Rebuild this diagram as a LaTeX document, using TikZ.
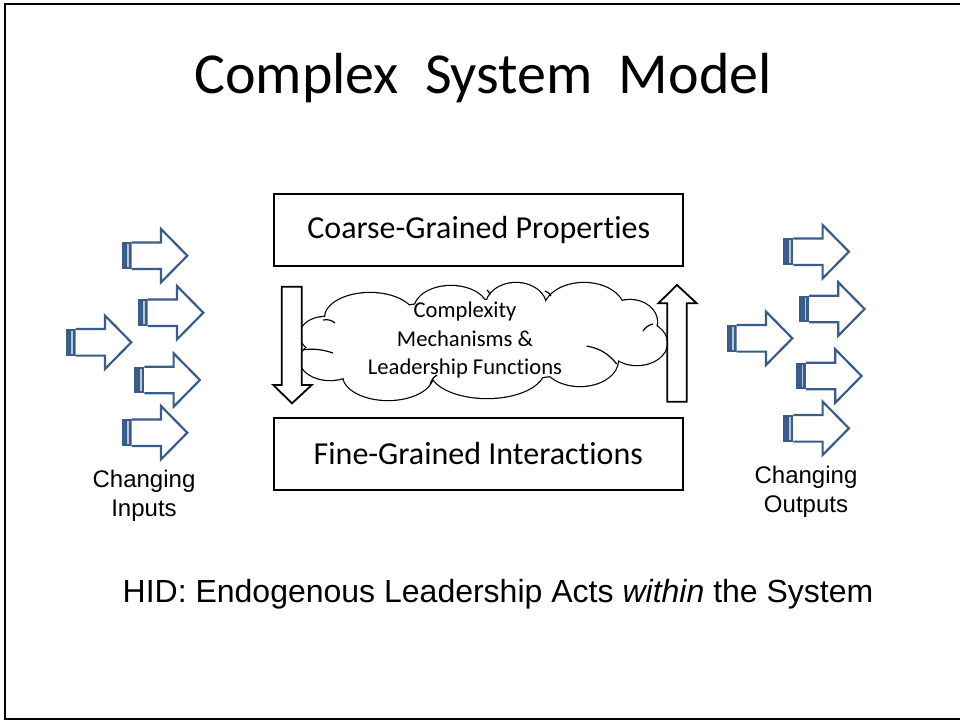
\documentclass[tikz,border=0pt]{standalone}
\usepackage{fontspec}
\setmainfont{Carlito}[Ligatures=NoCommon]
\newfontfamily\arialfont{Liberation Sans}
\definecolor{arrowblue}{RGB}{56,93,138}

\begin{document}
\begin{tikzpicture}[x=1pt, y=-1pt, line join=miter]

    \tikzset{%
    grain box/.style={
        draw,
        line width=2pt,
        minimum width=409,
        minimum height=72,
        font=\fontsize{32}{36}\selectfont
        },
    side label/.style={
        align=center,
        font=\arialfont\fontsize{24}{29}\selectfont
        },
    striped arrow/.pic={
        \fill [arrowblue] (0,-13.3) rectangle (10,13.3);
        \fill [white!65!arrowblue] (5.6,-11.3) rectangle (7.3,11.3);
        \draw [arrowblue, line width=2.2pt, fill=white]
        (10,-13.3) -- (39.3,-13.3) -- (39.3,-26.7) -- (65.6,0)
        -- (39.3,26.7) -- (39.3,13.3) -- (10,13.3);
        },
    block arrow/.style={
        draw,
        fill=white,
        line width=1.8pt
        },
    puff line/.style={
        line width=1.2pt
        },
    }

    \useasboundingbox (0,0) rectangle (960,721);

    % Slide frame
    \draw [line width=2pt] (970,3.5) -- (4.5,3.5) -- (4.5,719) -- (970,719);

    % Title
    \node (title) at (483,78) {\fontsize{58}{62}\selectfont Complex\hspace{0.45em}System\hspace{0.45em}Model};

    % Coarse and fine boxes
    \node [grain box] (coarse) at (478.7,229.7) {Coarse-Grained Properties};
    \node [grain box] (fine) at (478.3,453.5) {Fine-Grained Interactions};

    % Cloud between the boxes: outline of the puffs, then white inside
    \def\puffs{370/318/45/25, 451/310/37/24, 516/306/30/23, 584/310/40/27,
        630/322/27/22, 637/343/30/22, 580/360/38/26, 487/370/57/28,
        388/375/45/25, 330/360/30/20, 325/335/25/18, 485/340/150/40}
    \foreach \cx/\cy/\rx/\ry in \puffs
    \draw [line width=2.4pt] (\cx,\cy) ellipse [x radius=\rx, y radius=\ry];
    \foreach \cx/\cy/\rx/\ry in \puffs
    \fill [white] (\cx,\cy) ellipse [x radius=\rx, y radius=\ry];
    \coordinate (mech) at (485,343);

    % Inner arcs of the cloud
    \draw [puff line] (303,349.7) to[bend left=12] (333,353);
    \draw [puff line] (323,320) to[bend left=25] (335,323);
    \draw [puff line] (586.7,346) to[bend left=20] (616.7,364);
    \draw [puff line] (643,331) to[bend left=20] (653,324);
    \draw [puff line] (430,384.7) to[bend left=20] (437,375);
    \draw [puff line] (545,291) to[bend left=20] (551,296);
    \draw [puff line] (487,290) to[bend left=20] (490,295);
    \node [align=center, font=\fontsize{22.6}{28.5}\selectfont] (mechtext) at (465,340)
    {Complexity\\Mechanisms \&\\Leadership Functions};

    % Downward and upward block arrows
    \draw [block arrow] (281.7,286.7) -- (301.7,286.7) -- (301.7,385) -- (311.7,385)
    -- (292,403.3) -- (273.3,385) -- (281.7,385) -- cycle;
    \draw [block arrow] (667.3,401.7) -- (686.7,401.7) -- (686.7,303.3) -- (696.7,303.3)
    -- (677,285) -- (658.3,303.3) -- (667.3,303.3) -- cycle;

    % Changing inputs
    \foreach \x/\y [count=\i] in {121.7/255.7, 137.7/312.7, 65.7/342.3, 134.3/380, 121.7/432.7}
    \pic (in-\i) at (\x,\y) {striped arrow};
    \node [side label] (inputs) at (144,495.5) {Changing\\Inputs};

    % Changing outputs
    \foreach \x/\y [count=\i] in {783.3/251.7, 799/309, 726.7/338.3, 796/376, 783.3/428.3}
    \pic (out-\i) at (\x,\y) {striped arrow};
    \node [side label] (outputs) at (806,492) {Changing\\Outputs};

    % Bottom statement
    \node [font=\arialfont\fontsize{32}{36}\selectfont] (hid) at (498,594)
    {HID: Endogenous Leadership Acts \textit{within} the System};

\end{tikzpicture}
\end{document}
